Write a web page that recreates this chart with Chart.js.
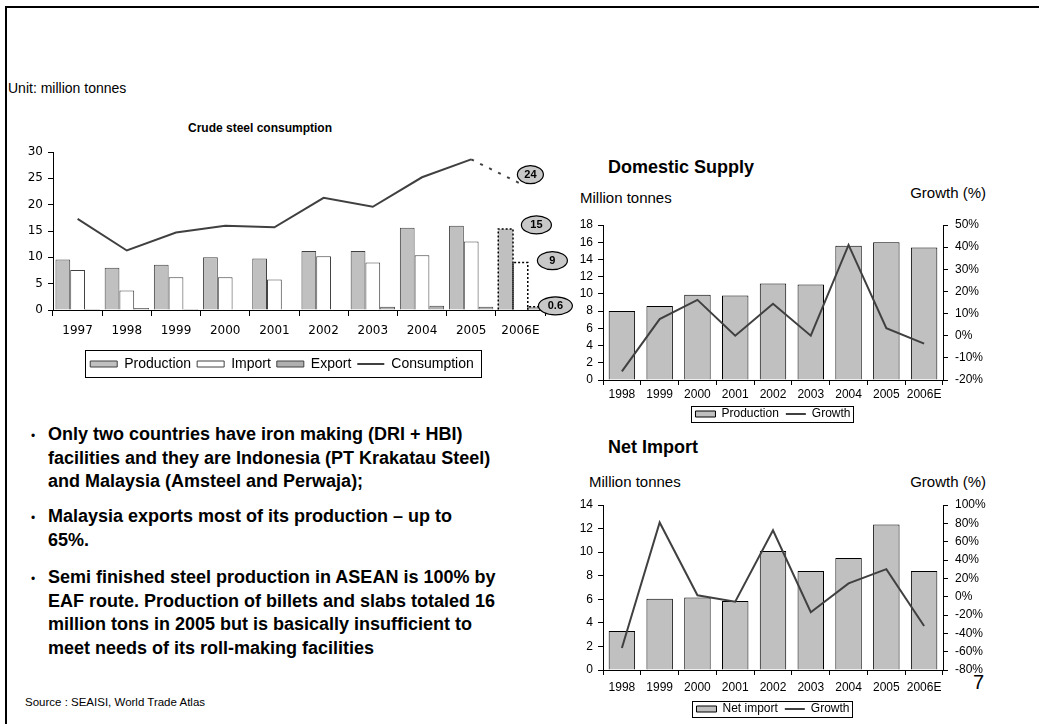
<!DOCTYPE html>
<html>
<head>
<meta charset="utf-8">
<script src="https://cdn.jsdelivr.net/npm/chart.js@4.4.0/dist/chart.umd.min.js"></script>
<style>
html, body { margin: 0; padding: 0; background: #fff; }
body { width: 1039px; height: 724px; position: relative; overflow: hidden;
       font-family: "Liberation Sans", Arial, sans-serif; color: #000; }
.frame { position: absolute; left: 5px; top: 6px; width: 1040px; height: 730px;
         border-top: 2.5px solid #000; border-left: 2.5px solid #000; }
.t { position: absolute; white-space: nowrap; line-height: 1; }
canvas { position: absolute; }
.bul { position: absolute; left: 48px; width: 530px; font-weight: bold; font-size: 18px; line-height: 23.5px; }
.bul:before { content: "\2022"; position: absolute; left: -17px; top: 2px; font-size: 12px; font-weight: normal; }
</style>
</head>
<body>
<div class="frame"></div>
<div class="t" style="left:8px;top:81px;font-size:14px;">Unit: million tonnes</div>
<div class="t" style="left:160px;width:200px;text-align:center;top:122px;font-size:12px;font-weight:bold;">Crude steel consumption</div>

<div class="t" style="left:608px;top:158px;font-size:18px;font-weight:bold;">Domestic Supply</div>
<div class="t" style="left:580px;top:190px;font-size:15px;">Million tonnes</div>
<div class="t" style="right:53px;top:185px;font-size:15px;">Growth (%)</div>

<div class="t" style="left:608px;top:438px;font-size:18px;font-weight:bold;">Net Import</div>
<div class="t" style="left:589px;top:474px;font-size:15px;">Million tonnes</div>
<div class="t" style="right:53px;top:474px;font-size:15px;">Growth (%)</div>

<div class="bul" style="top:423px;">Only two countries have iron making (DRI + HBI)<br>facilities and they are Indonesia (PT Krakatau Steel)<br>and Malaysia (Amsteel and Perwaja);</div>
<div class="bul" style="top:505px;">Malaysia exports most of its production &ndash; up to<br>65%.</div>
<div class="bul" style="top:566px;">Semi finished steel production in ASEAN is 100% by<br>EAF route. Production of billets and slabs totaled 16<br>million tons in 2005 but is basically insufficient to<br>meet needs of its roll-making facilities</div>

<div class="t" style="left:25px;top:697px;font-size:11.5px;">Source : SEAISI, World Trade Atlas</div>
<div class="t" style="left:973px;top:672px;font-size:20px;">7</div>

<canvas id="consChart" width="580" height="265" style="left:0;top:118px;"></canvas>
<canvas id="supplyChart" width="479" height="225" style="left:560px;top:205px;"></canvas>
<canvas id="importChart" width="479" height="240" style="left:560px;top:485px;"></canvas>

<script>
Chart.defaults.font.family = '"Liberation Sans", Arial, sans-serif';
Chart.defaults.color = '#000';
Chart.defaults.animation = false;

// crude steel consumption
const years = ["1997", "1998", "1999", "2000", "2001", "2002", "2003", "2004", "2005", "2006E"];
const production = [9.6, 8.0, 8.6, 10.0, 9.8, 11.2, 11.2, 15.6, 16.0, 15.4];
const imports = [7.6, 3.7, 6.2, 6.2, 5.8, 10.2, 9.0, 10.4, 13.0, 9.0];
const exports = [0.2, 0.4, 0.2, 0.0, 0.0, 0.0, 0.6, 0.8, 0.6, 0.6];
const consumption = [17.3, 11.3, 14.7, 16.0, 15.7, 21.3, 19.6, 25.2, 28.6, 24];
const consTicks = [0, 5, 10, 15, 20, 25, 30];

// domestic supply
const supplyYears = ["1998", "1999", "2000", "2001", "2002", "2003", "2004", "2005", "2006E"];
const supplyProd = [8.0, 8.6, 9.9, 9.8, 11.2, 11.1, 15.6, 16.0, 15.4];
const supplyGrowth = [-16.1, 7.5, 16.2, 0.0, 14.4, 0.0, 41.0, 3.4, -3.6];

// net import
const importYears = ["1998", "1999", "2000", "2001", "2002", "2003", "2004", "2005", "2006E"];
const netImport = [3.3, 6.05, 6.15, 5.85, 10.1, 8.4, 9.5, 12.35, 8.4];
const importGrowth = [-56, 81, 1.5, -5.5, 72.5, -17, 14.5, 30, -32];

const last = years.length - 1;
const grey = "#c0c0c0";
const dark = "#404040";
const byIndex = (a, b) => a.datasetIndex - b.datasetIndex;

// frame round the legend items
const legendFrame = {
  id: "legendFrame",
  afterDraw(chart, args, opts) {
    const boxes = chart.legend && chart.legend.legendHitBoxes;
    if (!boxes || !boxes.length) return;
    let l = Infinity, r = -Infinity;
    boxes.forEach(b => { l = Math.min(l, b.left); r = Math.max(r, b.left + b.width); });
    const cy = boxes[0].top + boxes[0].height / 2;
    const ctx = chart.ctx;
    ctx.save();
    ctx.strokeStyle = "#000";
    ctx.lineWidth = 1;
    const x0 = Math.round(l - opts.left) + 0.5;
    const x1 = Math.round(r + opts.right) + 0.5;
    const y0 = Math.round(cy - opts.up) + 0.5;
    const y1 = Math.round(cy + opts.down) + 0.5;
    ctx.strokeRect(x0, y0, x1 - x0, y1 - y0);
    ctx.restore();
  }
};

// dotted outline for the estimate bars
const estimateOutline = {
  id: "estimateOutline",
  afterDatasetsDraw(chart) {
    const ctx = chart.ctx;
    ctx.save();
    ctx.setLineDash([2, 2]);
    ctx.lineWidth = 1.5;
    ctx.strokeStyle = "#000";
    chart.data.datasets.forEach((ds, i) => {
      if (ds.type === "line") return;
      const el = chart.getDatasetMeta(i).data[last];
      if (!el) return;
      const p = el.getProps(["x", "y", "base", "width"], true);
      const l = p.x - p.width / 2, r = p.x + p.width / 2;
      ctx.beginPath();
      ctx.moveTo(l, p.base);
      ctx.lineTo(l, p.y);
      ctx.lineTo(r, p.y);
      ctx.lineTo(r, p.base);
      ctx.stroke();
    });
    ctx.restore();
  }
};

// grey ellipse call-outs for 2006E
const callouts = {
  id: "callouts",
  afterDraw(chart, args, opts) {
    const xs = chart.scales.x, ys = chart.scales.y;
    const ctx = chart.ctx;
    opts.items.forEach(c => {
      const cx = xs.getPixelForValue(last) + c.dx;
      const cy = ys.getPixelForValue(c.value) + c.dy;
      ctx.save();
      ctx.beginPath();
      ctx.ellipse(cx, cy, c.rx, 9, 0, 0, Math.PI * 2);
      ctx.fillStyle = "#c8c8c8";
      ctx.fill();
      ctx.lineWidth = 1.2;
      ctx.strokeStyle = "#000";
      ctx.stroke();
      ctx.fillStyle = "#000";
      ctx.font = 'bold 11px "Liberation Sans", Arial, sans-serif';
      ctx.textAlign = "center";
      ctx.textBaseline = "middle";
      ctx.fillText(c.text, cx, cy + 0.5);
      ctx.restore();
    });
  }
};

const consFont = { family: '"DejaVu Sans", Verdana, sans-serif', size: 12 };

new Chart(document.getElementById("consChart"), {
  type: "bar",
  data: {
    labels: years,
    datasets: [
      { label: "Production", data: production, backgroundColor: grey, borderColor: dark,
        borderWidth: c => c.dataIndex === last ? 0 : 1, pointStyle: "rect", order: 1 },
      { label: "Import", data: imports, backgroundColor: "#fff", borderColor: dark,
        borderWidth: c => c.dataIndex === last ? 0 : 1, pointStyle: "rect", order: 1 },
      { label: "Export", data: exports, backgroundColor: "#b0b0b0", borderColor: dark,
        borderWidth: c => c.dataIndex === last ? 0 : 1, pointStyle: "rect", order: 1 },
      { type: "line", label: "Consumption", data: consumption, borderColor: dark, backgroundColor: dark,
        borderWidth: 2, pointRadius: 0, pointStyle: "line", tension: 0, order: 0,
        segment: { borderDash: s => s.p1DataIndex === last ? [3, 7] : undefined } }
    ]
  },
  options: {
    responsive: false,
    categoryPercentage: 0.9,
    barPercentage: 1.0,
    layout: { padding: { left: 19, right: 35, top: 34, bottom: 2 } },
    scales: {
      x: {
        grid: { offset: true, drawOnChartArea: false, color: "#000", tickLength: 6 },
        border: { color: "#000" },
        ticks: { font: consFont, padding: 8, autoSkip: false, maxRotation: 0 },
        afterFit: s => { s.height = 41; }
      },
      y: {
        min: 0, max: 30,
        afterBuildTicks: s => { s.ticks = consTicks.map(v => ({ value: v })); },
        grid: { drawOnChartArea: false, color: "#000", tickLength: 5 },
        border: { color: "#000" },
        ticks: { font: consFont, padding: 5, autoSkip: false },
        afterFit: s => { s.width = 34; }
      }
    },
    plugins: {
      tooltip: { enabled: false },
      legend: {
        position: "bottom",
        labels: { usePointStyle: true, pointStyleWidth: 27, boxHeight: 6, padding: 6,
                  font: { size: 14 }, sort: byIndex }
      },
      legendFrame: { left: 5, right: 7, up: 14, down: 13 },
      callouts: {
        items: [
          { text: "24", value: consumption[last], dx: 10, dy: -9, rx: 13 },
          { text: "15", value: production[last], dx: 16, dy: -4, rx: 15 },
          { text: "9", value: imports[last], dx: 32, dy: -2, rx: 15 },
          { text: "0.6", value: exports[last], dx: 35, dy: -1, rx: 17 }
        ]
      }
    }
  },
  plugins: [estimateOutline, callouts, legendFrame]
});

function growthChart(id, labels, barLabel, bars, growth, leftMax, rightMin, rightMax, rightStep, xPad, xHeight) {
  const leftTicks = [];
  for (let v = 0; v <= leftMax; v += 2) leftTicks.push(v);
  const rightTicks = [];
  for (let v = rightMin; v <= rightMax; v += rightStep) rightTicks.push(v);
  return new Chart(document.getElementById(id), {
    type: "bar",
    data: {
      labels: labels,
      datasets: [
        { label: barLabel, data: bars, backgroundColor: grey, borderColor: "#000", borderWidth: 1,
          pointStyle: "rect", yAxisID: "y", order: 1 },
        { type: "line", label: "Growth", data: growth, borderColor: dark, backgroundColor: dark,
          borderWidth: 2, pointRadius: 0, pointStyle: "line", tension: 0, yAxisID: "y1", order: 0 }
      ]
    },
    options: {
      responsive: false,
      categoryPercentage: 0.7,
      barPercentage: 1.0,
      layout: { padding: { left: 0, right: 53, top: 20, bottom: 0 } },
      scales: {
        x: {
          grid: { offset: true, drawOnChartArea: false, color: "#000", tickLength: 5 },
          border: { color: "#000" },
          ticks: { font: { size: 12 }, padding: xPad, autoSkip: false, maxRotation: 0 },
          afterFit: s => { s.height = xHeight; }
        },
        y: {
          position: "left", min: 0, max: leftMax,
          afterBuildTicks: s => { s.ticks = leftTicks.map(v => ({ value: v })); },
          grid: { drawOnChartArea: false, color: "#000", tickLength: 5 },
          border: { color: "#000" },
          ticks: { font: { size: 12 }, padding: 5, autoSkip: false },
          afterFit: s => { s.width = 43; }
        },
        y1: {
          position: "right", min: rightMin, max: rightMax,
          afterBuildTicks: s => { s.ticks = rightTicks.map(v => ({ value: v })); },
          grid: { drawOnChartArea: false, color: "#000", tickLength: 5 },
          border: { color: "#000" },
          ticks: { font: { size: 12 }, padding: 7, autoSkip: false, callback: v => v + "%" },
          afterFit: s => { s.width = 43; }
        }
      },
      plugins: {
        tooltip: { enabled: false },
        legend: {
          position: "bottom",
          labels: { usePointStyle: true, pointStyleWidth: 20, boxHeight: 6, padding: 7,
                    font: { size: 12 }, sort: byIndex }
        },
        legendFrame: { left: 4, right: 2, up: 8, down: 8 }
      }
    },
    plugins: [legendFrame]
  });
}

growthChart("supplyChart", supplyYears, "Production", supplyProd, supplyGrowth, 18, -20, 50, 10, 2, 21);
growthChart("importChart", importYears, "Net import", netImport, importGrowth, 14, -80, 100, 20, 5, 26);
</script>
</body>
</html>
